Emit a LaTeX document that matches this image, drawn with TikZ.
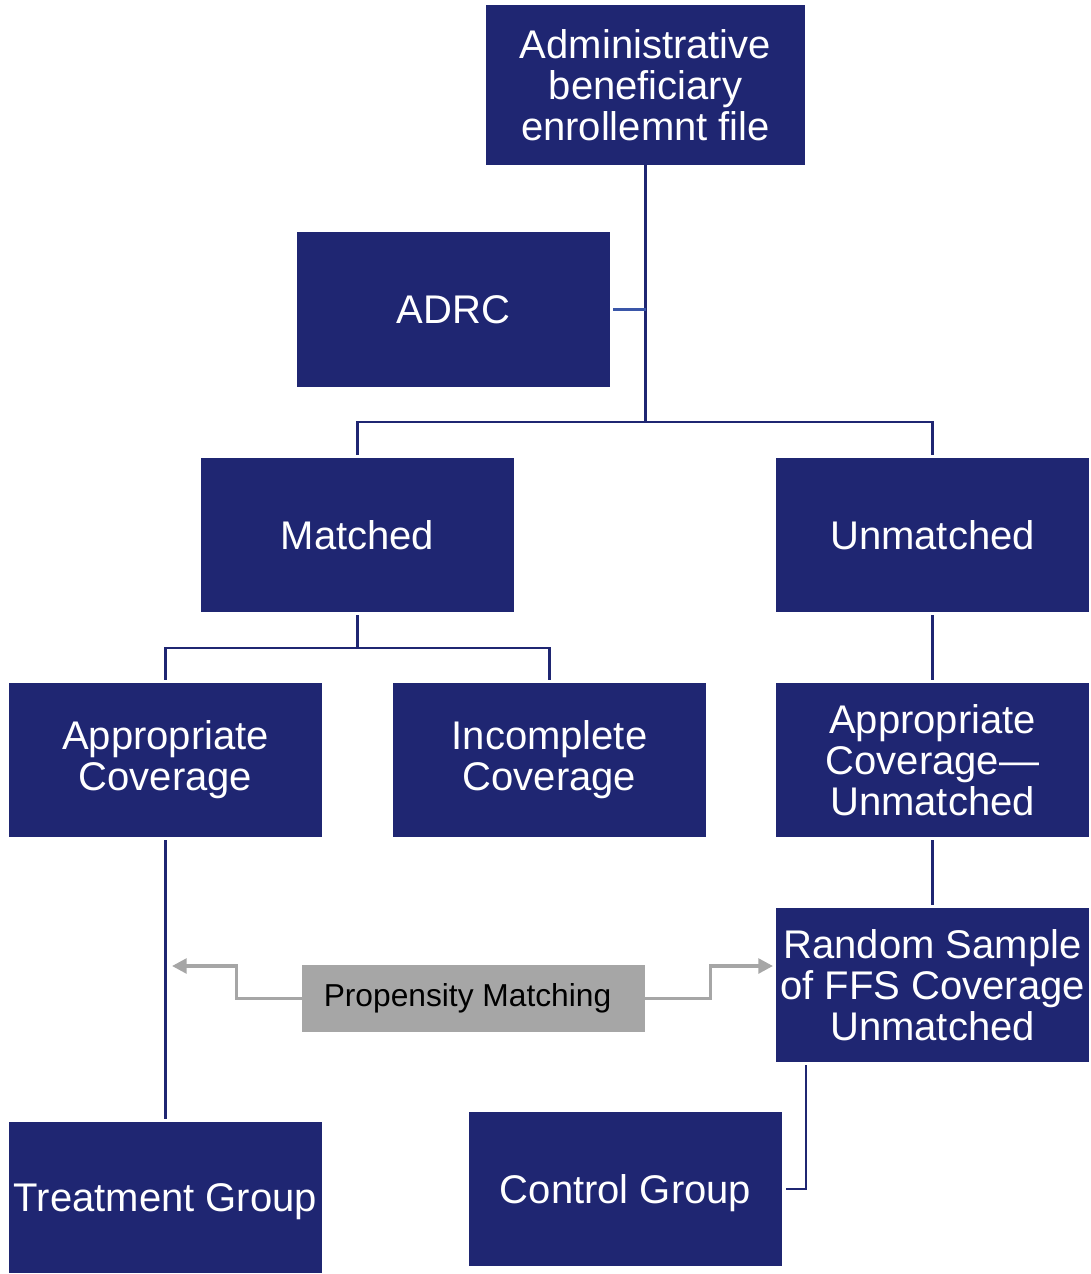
\documentclass[tikz,border=0pt]{standalone}
\usepackage{fontspec}
\setmainfont{Liberation Sans}
\usetikzlibrary{arrows.meta}
\definecolor{navy}{RGB}{31,38,114}
\definecolor{adrcblue}{RGB}{58,86,168}
\definecolor{pmgray}{RGB}{166,166,166}
\begin{document}
\begin{tikzpicture}[x=0.75pt,y=-0.75pt,
  box/.style={draw=none,fill=navy,text=white,minimum width=234.75pt,minimum height=115.5pt,inner sep=0pt,align=center,font=\fontsize{30}{30.75}\selectfont},
  pmbox/.style={fill=pmgray,text=black,minimum width=257.25pt,minimum height=50.25pt,inner sep=0pt,font=\fontsize{23.8}{26}\selectfont},
  link/.style={draw=navy,line width=1.6pt},
  adrclink/.style={draw=adrcblue,line width=1.6pt},
  grayarrow/.style={draw=pmgray,line width=2.6pt,-{Triangle[length=11pt,width=11pt]}}]
\useasboundingbox (0,0) rectangle (1091,1274);
\node[box,minimum width=239.25pt,minimum height=120pt] (admin) at (645.5,85) {Administrative\\beneficiary\\enrollemnt file};
\node[box,minimum height=116.25pt] (adrc) at (453.5,309.5) {ADRC};
\node[box] (matched) at (357.5,535) {Matched};
\node[box] (unmatched) at (932.5,535) {Unmatched};
\node[box] (appcov) at (165.5,760) {Appropriate\\Coverage};
\node[box] (incomp) at (549.5,760) {Incomplete\\Coverage};
\node[box] (appun) at (932.5,760) {Appropriate\\Coverage---\\Unmatched};
\node[box] (random) at (932.5,985) {Random Sample\\of FFS Coverage\\Unmatched};
\node[box,minimum height=113.25pt,text depth=0pt] (treat) at (165.5,1197.5) {Treatment Group};
\node[box,text depth=0pt] (control) at (625.5,1189) {Control Group};
\node[pmbox] (pm) at (473.5,998.5) {Propensity Matching\kern9pt};
\coordinate (split) at (645.5,422);
\coordinate (la) at (172,966);
\coordinate (ra) at (773,966);
% connectors
\draw[link] (admin.south) -- (split);
\draw[adrclink] ([xshift=2.25pt]adrc.east) -- (adrc.east -| admin.south);
\draw[link] ([yshift=2.25pt]matched.north) |- (split) -| ([yshift=2.25pt]unmatched.north);
\draw[link] ([yshift=-2.25pt]matched.south) -- ++(0,33) -| ([yshift=2.25pt]appcov.north);
\draw[link] ([yshift=-2.25pt]matched.south) -- ++(0,33) -| ([yshift=2.25pt]incomp.north);
\draw[link] ([yshift=-2.25pt]unmatched.south) -- ([yshift=2.25pt]appun.north);
\draw[link] ([yshift=-2.25pt]appun.south) -- ([yshift=2.25pt]random.north);
\draw[link] ([yshift=-2.25pt]appcov.south) -- ([yshift=2.25pt]treat.north);
\draw[link] ([xshift=22.5pt,yshift=-2.25pt]random.south west) |- ([xshift=3pt]control.east);
\draw[grayarrow] (pm.west) -- ++(-65,0) |- (la);
\draw[grayarrow] (pm.east) -- ++(65,0) |- (ra);
\end{tikzpicture}
\end{document}
